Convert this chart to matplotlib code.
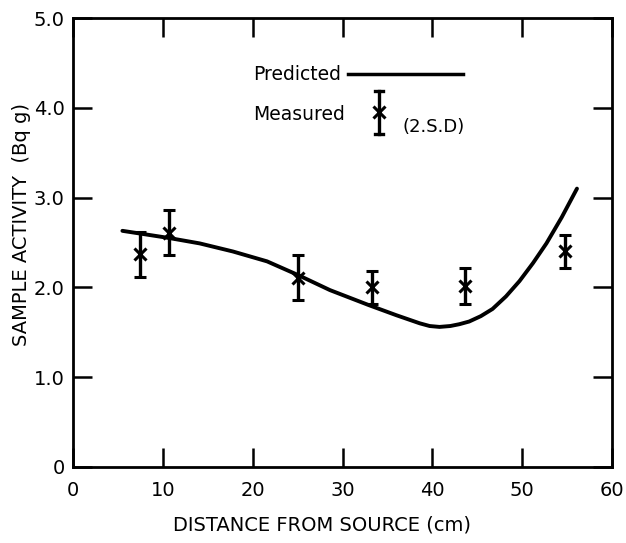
import matplotlib
matplotlib.use("Agg")
import matplotlib.pyplot as plt
from matplotlib.lines import Line2D

# ---- data ----
meas_x = [7.5, 10.7, 25.0, 33.3, 43.6, 54.8]
meas_y = [2.37, 2.61, 2.11, 2.00, 2.02, 2.40]
meas_err = [0.25, 0.25, 0.25, 0.18, 0.20, 0.18]

pred_x = [5.5, 10.7, 14.1, 17.8, 21.6, 25.0, 28.6, 33.0, 36.0, 38.6, 39.7, 40.8,
          42.0, 43.0, 44.1, 45.4, 46.7, 48.2, 49.7, 51.2, 52.7, 54.4, 56.1]
pred_y = [2.63, 2.55, 2.49, 2.40, 2.29, 2.14, 1.97, 1.80, 1.69, 1.60, 1.57, 1.56,
          1.57, 1.59, 1.62, 1.68, 1.76, 1.90, 2.07, 2.27, 2.49, 2.78, 3.10]

xticks = [0, 10, 20, 30, 40, 50, 60]
xticklabels = ["0", "10", "20", "30", "40", "50", "60"]
yticks = [0, 1, 2, 3, 4, 5]
yticklabels = ["0", "1.0", "2.0", "3.0", "4.0", "5.0"]

plt.rcParams["font.family"] = ["DejaVu Sans"]

W, H = 626, 543
fig = plt.figure(figsize=(W / 100, H / 100), dpi=100)
L, R, T, B = 73, 612, 18, 467
ax = fig.add_axes([L / W, 1 - B / H, (R - L) / W, (B - T) / H])

ax.plot(pred_x, pred_y, color="black", lw=2.8, solid_capstyle="round")
ax.errorbar(meas_x, meas_y, yerr=meas_err, fmt="x", color="black", ms=8, mew=2.2,
            elinewidth=2.4, capsize=4.5, capthick=2.4)

ax.set_xlim(0, 60)
ax.set_ylim(0, 5)
ax.set_xticks(xticks)
ax.set_xticklabels(xticklabels)
ax.set_yticks(yticks)
ax.set_yticklabels(yticklabels)
ax.tick_params(direction="in", length=14, width=1.8, labelsize=14,
               top=True, right=True, pad=6)
ax.tick_params(axis="x", pad=10)
for s in ax.spines.values():
    s.set_linewidth(2.0)

def fx(px):
    return px / W

def fy(py):
    return 1 - py / H

fig.text(fx(322), fy(525), "DISTANCE FROM SOURCE (cm)", ha="center", va="center",
         fontsize=14)
fig.text(fx(22), fy(224), "SAMPLE ACTIVITY  (Bq g)", ha="center", va="center",
         rotation=90, fontsize=14)

# legend
fig.text(fx(253), fy(74), "Predicted", ha="left", va="center", fontsize=13.5)
fig.add_artist(Line2D([fx(348), fx(463)], [fy(74), fy(74)], color="black", lw=2.5,
                      transform=fig.transFigure))
fig.text(fx(253), fy(114), "Measured", ha="left", va="center", fontsize=13.5)
xl = fx(379)
fig.add_artist(Line2D([xl, xl], [fy(91), fy(134)], color="black", lw=2.4,
                      transform=fig.transFigure))
for yy in (91, 134):
    fig.add_artist(Line2D([fx(375), fx(383)], [fy(yy), fy(yy)], color="black", lw=2.4,
                          transform=fig.transFigure))
fig.add_artist(Line2D([xl], [fy(112)], color="black", marker="x", ms=8, mew=2.2,
                      transform=fig.transFigure))
fig.text(fx(403), fy(127), "(2.S.D)", ha="left", va="center", fontsize=13)

fig.savefig("out.png", dpi=100)
